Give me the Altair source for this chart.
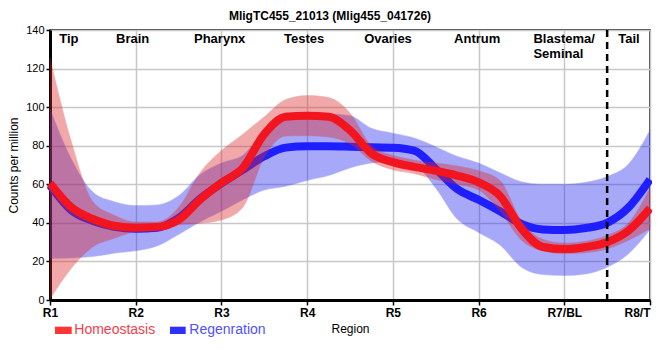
import json
import altair as alt
import pandas as pd

# ---------------- data ----------------
region_x = [1.0, 1.25, 1.5, 1.75, 2.0, 2.25, 2.5, 2.75, 3.0, 3.25, 3.5, 3.75, 4.0, 4.25,
            4.5, 4.75, 5.0, 5.25, 5.5, 5.75, 6.0, 6.25, 6.5, 6.75, 7.0, 7.25, 7.5, 7.75, 8.0]

hom_mean = [60.5, 48, 42, 38.5, 37.5, 37.8, 41.5, 52, 60.8, 68.5, 86, 95, 95.5, 95,
            88, 76, 71.5, 69, 67, 64.5, 61, 54, 37, 27.5, 26.4, 27.5, 30, 36, 47.5]
hom_hi = [125.5, 82, 51, 44, 40.5, 40.5, 48, 66, 77.5, 86, 95, 104, 106, 105,
          97, 80, 75, 72.5, 71, 69.5, 67, 62, 41, 31.5, 29.5, 30.5, 33.5, 40, 58]
hom_lo = [0.5, 16.5, 27.5, 32, 35.5, 37, 39, 39.8, 41.5, 48, 74, 85, 85.2, 84.5,
          81, 72, 67.5, 65.5, 62.5, 60, 57, 46, 31, 25.5, 24, 24.5, 26.5, 31, 37]

reg_mean = [59.5, 46.5, 41, 38, 37, 37.5, 42.5, 52.5, 60.5, 67.5, 74.5, 79, 79.7, 79.7,
            79.5, 79.2, 79, 77.5, 68, 57.5, 52, 46, 39.5, 36.6, 36.3, 37.3, 40, 48, 62.5]
reg_hi = [99, 73, 56, 51, 49, 49.3, 54, 65, 71, 75, 88, 95, 96.5, 96.5,
          95.5, 89, 86.5, 84, 79.5, 74.5, 71, 66, 61.3, 60, 60, 61, 64, 70.5, 88]
reg_lo = [21.5, 21.8, 22.5, 24.3, 25.5, 28, 34, 40.5, 46, 52, 57, 59, 62, 64.5,
          68.5, 71, 71.8, 70, 58, 42, 35, 28.5, 17, 13.2, 12.7, 13.5, 17, 24, 36.5]

x_tick_labels = ["R1", "R2", "R3", "R4", "R5", "R6", "R7/BL", "R8/T"]
region_names = ["Tip", "Brain", "Pharynx", "Testes", "Ovaries", "Antrum", "Blastema/\nSeminal", "Tail"]
region_name_x = [1.108, 1.77, 2.68, 3.73, 4.665, 5.714, 6.64, 7.63]
series_names = ["Homeostasis", "Regenration"]
divider_x = [7.5]

# ---------------- styling ----------------
RED_LINE = "#f2141f"
BLUE_LINE = "#1e1eff"
RED_BAND = "#dc2828"
BLUE_BAND = "#2828f0"
FONT = "Liberation Sans"

def frame(mean, lo, hi):
    return pd.DataFrame({"x": region_x, "mean": mean, "lo": lo, "hi": hi})

hom_df = frame(hom_mean, hom_lo, hom_hi)
reg_df = frame(reg_mean, reg_lo, reg_hi)

xscale = alt.Scale(domain=[1, 8], nice=False, zero=False)
yscale = alt.Scale(domain=[0, 140], nice=False)

label_expr = json.dumps(x_tick_labels) + "[datum.value - 1]"
x_axis = alt.Axis(values=list(range(1, 9)), labelExpr=label_expr, title="Region",
                  labelFontWeight="bold", labelFontSize=12, tickSize=5,
                  labelAlign=alt.condition("datum.value == 8", alt.value("right"), alt.value("center")),
                  titleFontSize=12, titleFontWeight="normal", titlePadding=5,
                  labelPadding=2)
y_axis = alt.Axis(values=list(range(0, 141, 20)), title="Counts per million",
                  labelFontSize=11, tickSize=4, labelPadding=2,
                  titleFontSize=12, titleFontWeight="normal", titlePadding=5)

X = alt.X("x:Q", scale=xscale, axis=x_axis)


def band(df, color, stroke):
    return alt.Chart(df).mark_area(
        color=color, opacity=0.4, interpolate="monotone",
        stroke=stroke, strokeWidth=1, strokeOpacity=0.5
    ).encode(x=X, y=alt.Y("lo:Q", scale=yscale, axis=y_axis), y2="hi:Q")


def line(df, color):
    return alt.Chart(df).mark_line(
        color=color, strokeWidth=8, interpolate="monotone", strokeCap="butt"
    ).encode(x=X, y=alt.Y("mean:Q", scale=yscale, axis=y_axis))


reg_band = band(reg_df, BLUE_BAND, "#4040f0")
reg_line = line(reg_df, BLUE_LINE)
hom_band = band(hom_df, RED_BAND, "#d03030")
hom_line = line(hom_df, RED_LINE)

divider = alt.Chart(pd.DataFrame({"x": divider_x})).mark_rule(
    color="black", strokeWidth=2.5, strokeDash=[7, 5]
).encode(x=X)

region_text = alt.Chart(pd.DataFrame({"x": region_name_x, "name": region_names})).mark_text(
    align="left", baseline="alphabetic", fontWeight="bold", fontSize=13,
    lineBreak="\n", lineHeight=14.5, color="black", font=FONT
).encode(x=X, y=alt.value(13), text="name:N")

# manual legend below the plot
leg_df0 = pd.DataFrame({"name": [series_names[0]]})
leg_df1 = pd.DataFrame({"name": [series_names[1]]})
leg_red_sw = alt.Chart(leg_df0).mark_rect(color="#ff3535").encode(
    x=alt.value(5), x2=alt.value(21.7), y=alt.value(296.7), y2=alt.value(304))
leg_red_tx = alt.Chart(leg_df0).mark_text(
    align="left", baseline="alphabetic", fontSize=14, color="#f5404c", font=FONT
).encode(x=alt.value(24.3), y=alt.value(304.3), text="name:N")
leg_blue_sw = alt.Chart(leg_df1).mark_rect(color="#3030ff").encode(
    x=alt.value(120), x2=alt.value(135.7), y=alt.value(296.7), y2=alt.value(304))
leg_blue_tx = alt.Chart(leg_df1).mark_text(
    align="left", baseline="alphabetic", fontSize=14, color="#5050ff", font=FONT
).encode(x=alt.value(139.3), y=alt.value(304.3), text="name:N")

chart = alt.layer(
    reg_band, reg_line, hom_band, hom_line, divider, region_text,
    leg_red_sw, leg_red_tx, leg_blue_sw, leg_blue_tx
).properties(
    width=600, height=270,
    autosize="none",
    padding={"left": 42, "top": 22, "right": 2, "bottom": 45},
    title=alt.TitleParams(
        "MligTC455_21013 (Mlig455_041726)", fontSize=12, fontWeight="bold",
        anchor="middle", frame="group", dx=-20, offset=1, font=FONT, color="black"
    ),
).configure(font=FONT).configure_view(
    stroke="black", strokeWidth=1.5
).configure_axis(
    domainColor="black", domainWidth=3, tickColor="black", tickWidth=1.5,
    gridColor="#c8c8c8", gridWidth=1.5, labelColor="black", titleColor="black",
    labelFont=FONT, titleFont=FONT
)

chart.save("out.html", embed_options={"renderer": "svg", "actions": False})
